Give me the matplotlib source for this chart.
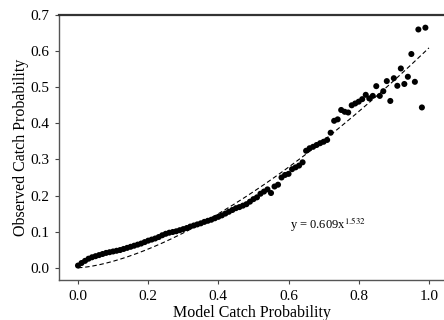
import numpy as np
import matplotlib
matplotlib.use("Agg")
import matplotlib.pyplot as plt

plt.rcParams['font.family'] = ['Liberation Serif', 'DejaVu Serif']
plt.rcParams['mathtext.fontset'] = 'stix'

# Binned model probability vs. observed catch frequency
model_prob = [
    0.00, 0.01, 0.02, 0.03, 0.04, 0.05, 0.06, 0.07, 0.08, 0.09,
    0.10, 0.11, 0.12, 0.13, 0.14, 0.15, 0.16, 0.17, 0.18, 0.19,
    0.20, 0.21, 0.22, 0.23, 0.24, 0.25, 0.26, 0.27, 0.28, 0.29,
    0.30, 0.31, 0.32, 0.33, 0.34, 0.35, 0.36, 0.37, 0.38, 0.39,
    0.40, 0.41, 0.42, 0.43, 0.44, 0.45, 0.46, 0.47, 0.48, 0.49,
    0.50, 0.51, 0.52, 0.53, 0.54, 0.55, 0.56, 0.57, 0.58, 0.59,
    0.60, 0.61, 0.62, 0.63, 0.64, 0.65, 0.66, 0.67, 0.68, 0.69,
    0.70, 0.71, 0.72, 0.73, 0.74, 0.75, 0.76, 0.77, 0.78, 0.79,
    0.80, 0.81, 0.82, 0.83, 0.84, 0.85, 0.86, 0.87, 0.88, 0.89,
    0.90, 0.91, 0.92, 0.93, 0.94, 0.95, 0.96, 0.97, 0.98, 0.99,
]
observed_prob = [
    0.006, 0.013, 0.019, 0.025, 0.029, 0.032, 0.035, 0.038, 0.041, 0.043,
    0.045, 0.047, 0.049, 0.052, 0.055, 0.058, 0.061, 0.064, 0.067, 0.071,
    0.075, 0.078, 0.081, 0.085, 0.090, 0.094, 0.097, 0.099, 0.101, 0.104,
    0.107, 0.110, 0.114, 0.117, 0.120, 0.123, 0.127, 0.130, 0.133, 0.137,
    0.141, 0.145, 0.150, 0.155, 0.160, 0.165, 0.168, 0.172, 0.176, 0.183,
    0.190, 0.195, 0.205, 0.211, 0.217, 0.207, 0.225, 0.230, 0.250, 0.257,
    0.260, 0.273, 0.278, 0.283, 0.292, 0.324, 0.331, 0.335, 0.340, 0.345,
    0.349, 0.354, 0.374, 0.407, 0.411, 0.437, 0.432, 0.430, 0.450, 0.455,
    0.460, 0.467, 0.479, 0.469, 0.476, 0.503, 0.476, 0.489, 0.517, 0.462,
    0.525, 0.504, 0.552, 0.509, 0.529, 0.592, 0.515, 0.660, 0.444, 0.665,
]

# Power-law fit y = a * x^b
fit_a = 0.609
fit_b = 1.532

x_ticks = [0.0, 0.2, 0.4, 0.6, 0.8, 1.0]
y_ticks = [0.0, 0.1, 0.2, 0.3, 0.4, 0.5, 0.6, 0.7]

fig = plt.figure(figsize=(4.44, 3.2), dpi=100)
ax = fig.add_axes([0.133, 0.125, 0.867, 0.828])

xf = np.linspace(0.0, 1.0, 200)
ax.plot(xf, fit_a * xf ** fit_b, color='black', lw=0.8,
        linestyle=(0, (4, 2.5)), zorder=2)
ax.scatter(model_prob, observed_prob, s=19, color='black',
           edgecolors='none', zorder=3)

ax.text(0.603, 0.108, r"y = 0.609x$^{1.532}$", fontsize=9, ha='left',
        va='baseline')

ax.set_xlim(-0.054, 1.043)
ax.set_ylim(-0.034, 0.7)
ax.set_xticks(x_ticks)
ax.set_xticklabels([f"{v:.1f}" for v in x_ticks])
ax.set_yticks(y_ticks)
ax.set_yticklabels([f"{v:.1f}" for v in y_ticks])

ax.tick_params(direction='out', length=3, width=0.8, color='#444444',
               labelsize=11, pad=4)
for side in ('left', 'bottom'):
    ax.spines[side].set_color('#555555')
    ax.spines[side].set_linewidth(1.0)
ax.spines['top'].set_color('#333333')
ax.spines['top'].set_linewidth(1.6)
ax.spines['right'].set_visible(False)

ax.set_xlabel("Model Catch Probability", fontsize=11.5, labelpad=1.5)
ax.set_ylabel("Observed Catch Probability", fontsize=11.5, labelpad=1)

fig.savefig("out.png", dpi=100)
